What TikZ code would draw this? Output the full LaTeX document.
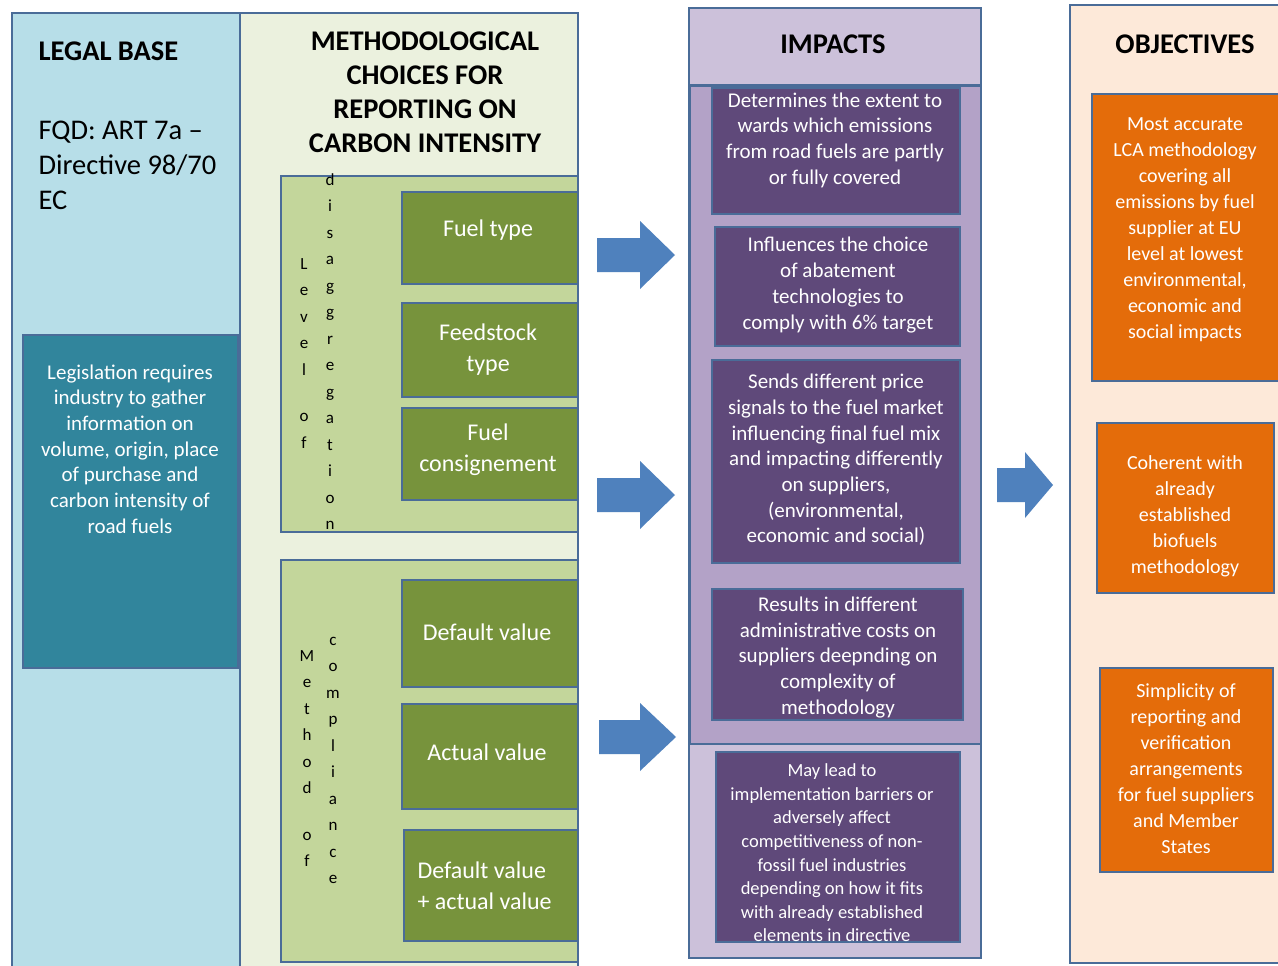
\documentclass[tikz,border=0pt]{standalone}
\usepackage{fontspec}
\setmainfont{Carlito}
\definecolor{bord}{HTML}{4A6C98}
\definecolor{lbl}{HTML}{B7DEE8}
\definecolor{methbg}{HTML}{EBF1DE}
\definecolor{lgreen}{HTML}{C3D69B}
\definecolor{dgreen}{HTML}{77933C}
\definecolor{teal}{HTML}{31859C}
\definecolor{lav}{HTML}{CCC1DA}
\definecolor{lavd}{HTML}{B3A2C7}
\definecolor{purp}{HTML}{5F497A}
\definecolor{peach}{HTML}{FDE9D9}
\definecolor{orng}{HTML}{E46C0A}
\definecolor{arr}{HTML}{4F81BD}
\tikzset{
  bx/.style={draw=bord, line width=1.6pt, inner sep=0pt, outer sep=0pt, anchor=north west},
  hdr/.style={font=\fontsize{28.5}{34}\selectfont\bfseries, align=center, text=black},
  lt/.style={font=\fontsize{28.5}{35}\selectfont, align=left, text=black},
  gt/.style={font=\fontsize{24}{31}\selectfont, align=center, text=white},
  st/.style={font=\fontsize{21}{25.7}\selectfont, align=center, text=white},
  vt/.style={font=\fontsize{17}{26.5}\selectfont, align=center, text=black, inner sep=0pt},
  blockarrow/.style={fill=arr}
}
\begin{document}
\begin{tikzpicture}[x=1pt,y=-1pt]
\useasboundingbox[fill=white] (0,0) rectangle (1278,966);
% columns
\node[bx, fill=lbl, minimum width=228pt, minimum height=965pt] (legalcol) at (12,13) {};
\node[bx, fill=methbg, minimum width=338pt, minimum height=965pt] (methcol) at (240,13) {};
\node[bx, fill=lav, minimum width=292pt, minimum height=950pt] (impcol) at (689,8) {};
\node[bx, fill=lav, minimum width=292pt, minimum height=77pt] (imphead) at (689,8) {};
\node[bx, fill=lavd, minimum width=291pt, minimum height=658pt] (impmid) at (690,86) {};
\node[bx, fill=peach, minimum width=215pt, minimum height=958pt] (objcol) at (1070,5) {};
% legal base
\node[anchor=west, hdr] (legaltitle) at (35,51) {LEGAL BASE};
\node[anchor=west, lt] (fqd) at (35,165) {FQD: ART 7a --\\Directive 98/70\\EC};
\node[bx, fill=teal, minimum width=215pt, minimum height=333pt] (legis) at (23,335) {};
\node[st] (legistext) at (130,449) {Legislation requires\\industry to gather\\information on\\volume, origin, place\\of purchase and\\carbon  intensity of\\road fuels};
% methodological
\node[hdr] (methtitle) at (425,92.5) {METHODOLOGICAL\\CHOICES FOR\\REPORTING ON\\CARBON INTENSITY};
\node[bx, fill=lgreen, minimum width=297pt, minimum height=356pt] (levbox) at (281,176) {};
\node[bx, fill=dgreen, minimum width=176pt, minimum height=92pt] (fueltype) at (402,192) {};
\node[bx, fill=dgreen, minimum width=176pt, minimum height=94pt] (feedstock) at (402,303) {};
\node[bx, fill=dgreen, minimum width=176pt, minimum height=92pt] (consign) at (402,408) {};
\node[gt] (fueltypet) at (488,230) {Fuel type};
\node[gt] (feedstockt) at (488,350) {Feedstock\\type};
\node[gt] (consignt) at (488,450) {Fuel\\consignement};
\node[vt, anchor=north] (levelof) at (304,258) {L\\e\\v\\e\\l\\[20pt]o\\f};
\node[vt, anchor=north] (disagg) at (330,173) {d\\i\\s\\a\\g\\g\\r\\e\\g\\a\\t\\i\\o\\n};
\node[bx, fill=lgreen, minimum width=297pt, minimum height=402pt] (compbox) at (281,560) {};
\node[bx, fill=dgreen, minimum width=176pt, minimum height=107pt] (defval) at (402,580) {};
\node[bx, fill=dgreen, minimum width=176pt, minimum height=105pt] (actval) at (402,704) {};
\node[bx, fill=dgreen, minimum width=174pt, minimum height=111pt] (defact) at (404,830) {};
\node[gt] (defvalt) at (487,632) {Default value};
\node[gt] (actvalt) at (487,752) {Actual value};
\node[gt, align=left, anchor=west] (defactt) at (414,886) {Default value\\+ actual value};
\node[vt, anchor=north] (methodof) at (307,650) {M\\e\\t\\h\\o\\d\\[20pt]o\\f};
\node[vt, anchor=north] (complian) at (333,637) {c\\o\\m\\p\\l\\i\\a\\n\\c\\e};
% arrows
\fill[blockarrow] (597,238) -- (640,238) -- (640,221) -- (675,255) -- (640,289) -- (640,272) -- (597,272) -- cycle;
\fill[blockarrow] (597,478) -- (640,478) -- (640,461) -- (675,495) -- (640,529) -- (640,512) -- (597,512) -- cycle;
\fill[blockarrow] (599,720) -- (640,720) -- (640,703) -- (676,737) -- (640,771) -- (640,754) -- (599,754) -- cycle;
\fill[blockarrow] (997,468) -- (1025,468) -- (1025,452) -- (1053,485) -- (1025,518) -- (1025,502) -- (997,502) -- cycle;
% impacts
\node[hdr] (imptitle) at (833,44) {IMPACTS};
\node[bx, fill=purp, minimum width=248pt, minimum height=126pt] (imp1) at (712,88) {};
\node[bx, fill=purp, minimum width=245pt, minimum height=119pt] (imp2) at (715,227) {};
\node[bx, fill=purp, minimum width=248pt, minimum height=203pt] (imp3) at (712,360) {};
\node[bx, fill=purp, minimum width=251pt, minimum height=131pt] (imp4) at (712,589) {};
\node[bx, fill=purp, minimum width=244pt, minimum height=190pt] (imp5) at (716,752) {};
\node[st] (imp1t) at (835,140) {Determines the extent to\\wards which emissions\\from road fuels are partly\\or fully covered};
\node[st] (imp2t) at (838,285) {Influences the choice\\of abatement\\technologies to\\comply with 6\% target};
\node[st] (imp3t) at (836,460) {Sends different price\\signals to the fuel market\\influencing final fuel mix\\and impacting differently\\on suppliers,\\(environmental,\\economic and social)};
\node[st] (imp4t) at (838,657.5) {Results in different\\administrative costs  on\\suppliers deepnding on\\complexity of\\methodology};
\node[st, font=\fontsize{18.5}{23.6}\selectfont] (imp5t) at (832,853) {May lead to\\implementation barriers or\\adversely affect\\competitiveness of non-\\fossil fuel industries\\depending on how it fits\\with already established\\elements in directive};
% objectives
\node[hdr] (objtitle) at (1185,44) {OBJECTIVES};
\node[bx, fill=orng, minimum width=195pt, minimum height=287pt] (obj1) at (1092,94) {};
\node[bx, fill=orng, minimum width=177pt, minimum height=170pt] (obj2) at (1097,423) {};
\node[bx, fill=orng, minimum width=173pt, minimum height=204pt] (obj3) at (1100,668) {};
\node[st, font=\fontsize{20}{26}\selectfont] (obj1t) at (1185,229.5) {Most accurate\\LCA methodology\\covering  all\\emissions by fuel\\supplier at EU\\level at lowest\\environmental,\\economic  and\\social impacts};
\node[st, font=\fontsize{20}{26}\selectfont] (obj2t) at (1185,516) {Coherent with\\already\\established\\biofuels\\methodology};
\node[st, font=\fontsize{20}{26}\selectfont] (obj3t) at (1186,769) {Simplicity of\\reporting and\\verification\\arrangements\\for fuel suppliers\\and Member\\States};
\end{tikzpicture}
\end{document}
